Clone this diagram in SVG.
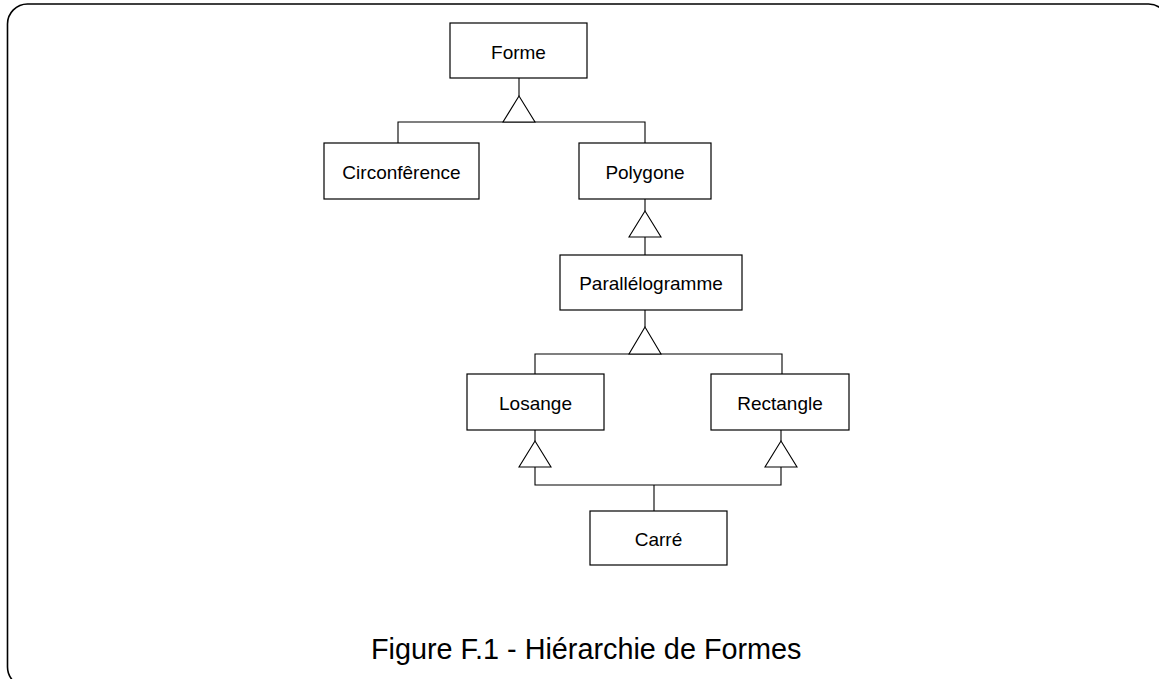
<svg xmlns="http://www.w3.org/2000/svg" width="1159" height="679" viewBox="0 0 1159 679">
<style>
.box{fill:#fff;stroke:#000;stroke-width:1.2}
.lbl{font-family:"Liberation Sans",Arial,sans-serif;font-size:19px;fill:#000;text-anchor:middle}
.con{fill:none;stroke:#000;stroke-width:1.1}
.tri{fill:#fff;stroke:#000;stroke-width:1.1}
</style>
<rect x="7.5" y="4" width="1161" height="683" rx="20" fill="#fff" stroke="#000" stroke-width="1.6"/>
<g id="connectors">
<path class="con" d="M519 78V96M398 143V122H645V143"/>
<polygon class="tri" points="519,96 503,122 535,122"/>
<path class="con" d="M645 199V211M645 237V255"/>
<polygon class="tri" points="645,211 629,237 661,237"/>
<path class="con" d="M645 310V327M535 374V354H782V374"/>
<polygon class="tri" points="645,327 629,354 661,354"/>
<path class="con" d="M535 430V441M781 430V441M535 467V485H781V467M654 485V511"/>
<polygon class="tri" points="535,441 519,467 551,467"/>
<polygon class="tri" points="781,441 765,467 797,467"/>
</g>
<g id="forme"><rect class="box" x="450" y="23" width="137" height="55"/><text class="lbl" x="518.5" y="58.5">Forme</text></g>
<g id="circonference"><rect class="box" x="324" y="143" width="155" height="56"/><text class="lbl" x="401.5" y="178.5">Circonfêrence</text></g>
<g id="polygone"><rect class="box" x="579" y="143" width="132" height="56"/><text class="lbl" x="645" y="178.5">Polygone</text></g>
<g id="parallelogramme"><rect class="box" x="560" y="255" width="182" height="55"/><text class="lbl" x="651" y="290">Parallélogramme</text></g>
<g id="losange"><rect class="box" x="467" y="374" width="137" height="56"/><text class="lbl" x="535.5" y="409.5">Losange</text></g>
<g id="rectangle"><rect class="box" x="711" y="374" width="138" height="56"/><text class="lbl" x="780" y="409.5">Rectangle</text></g>
<g id="carre"><rect class="box" x="590" y="511" width="137" height="54"/><text class="lbl" x="658.5" y="545.5">Carré</text></g>
<text x="371" y="658.5" font-family="&quot;Liberation Sans&quot;,Arial,sans-serif" font-size="28.8" fill="#000">Figure F.1 - Hiérarchie de Formes</text>
</svg>
